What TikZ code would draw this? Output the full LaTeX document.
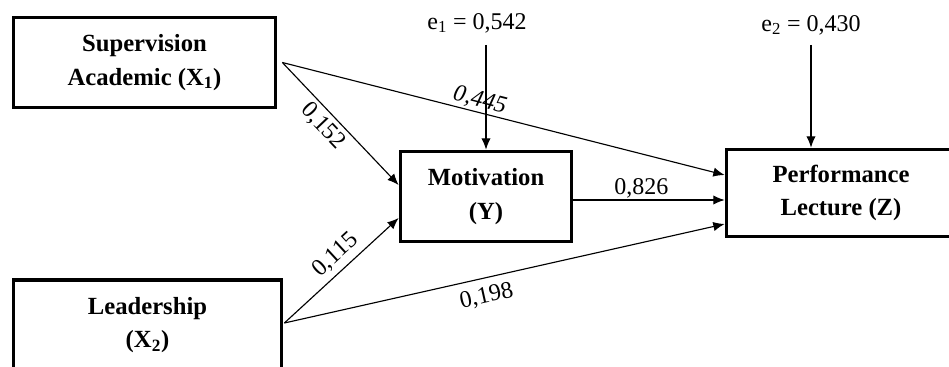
\documentclass[tikz,border=0pt]{standalone}
\usepackage{fontspec}
\setmainfont{Liberation Serif}
\usetikzlibrary{arrows.meta,calc}
\begin{document}
\begin{tikzpicture}[x=0.75pt,y=-0.75pt,
  box/.style={draw, line width=2.8pt, align=center,
    font=\bfseries\fontsize{18.5}{25}\selectfont, inner sep=0pt},
  arr/.style={-{Latex[length=8.5pt,width=7pt]}, line width=0.85pt},
  coef/.style={font=\fontsize{18}{20}\selectfont, inner sep=1pt, sloped},
  coefit/.style={coef, font=\itshape\fontsize{18}{20}\selectfont},
  elabel/.style={font=\fontsize{18}{20}\selectfont, inner sep=0pt}
]
\useasboundingbox (0,0) rectangle (949,367);

\node[box, minimum width=196.5pt, minimum height=67.5pt] (X1) at (144.5,62.5) {Supervision\\Academic (X\textsubscript{1})};
\node[box, minimum width=201pt, minimum height=67.5pt] (X2) at (147.5,325) {Leadership\\(X\textsubscript{2})};
\node[box, minimum width=128.25pt, minimum height=67.5pt] (Y) at (486,196.5) {Motivation\\(Y)};
\node[box, minimum width=171.75pt, minimum height=65.25pt] (Z) at (841,193) {Performance\\Lecture (Z)};

\node[elabel] (e1) at (477,23) {e\textsubscript{1} = 0,542};
\node[elabel] (e2) at (811,25) {e\textsubscript{2} = 0,430};
\coordinate (e1s) at (486,45);
\coordinate (e2s) at (811,45);

\draw[arr] (e1s) -- (Y.north);
\draw[arr] (e2s) -- (e2s |- Z.north);

\draw[arr] ($(X1.east)+(5,0)$) -- node[coef, below=2pt, pos=0.44] {0,152} ($(Y.west)+(0,-11.5)$);
\draw[arr] ($(X1.east)+(5,0)$) -- node[coefit, above, pos=0.44] {0,445} ($(Z.west)+(0,-18)$);
\draw[arr] ($(Y.east)+(0,3.5)$) -- node[coef, above, pos=0.45] {0,826} ($(Z.west)+(0,7)$);
\draw[arr] ($(X2.east)+(1,-2)$) -- node[coef, above=3pt, pos=0.54] {0,115} ($(Y.west)+(0,21.5)$);
\draw[arr] ($(X2.east)+(1,-2)$) -- node[coef, below=5pt, pos=0.45] {0,198} ($(Z.west)+(0,31)$);
\end{tikzpicture}
\end{document}
